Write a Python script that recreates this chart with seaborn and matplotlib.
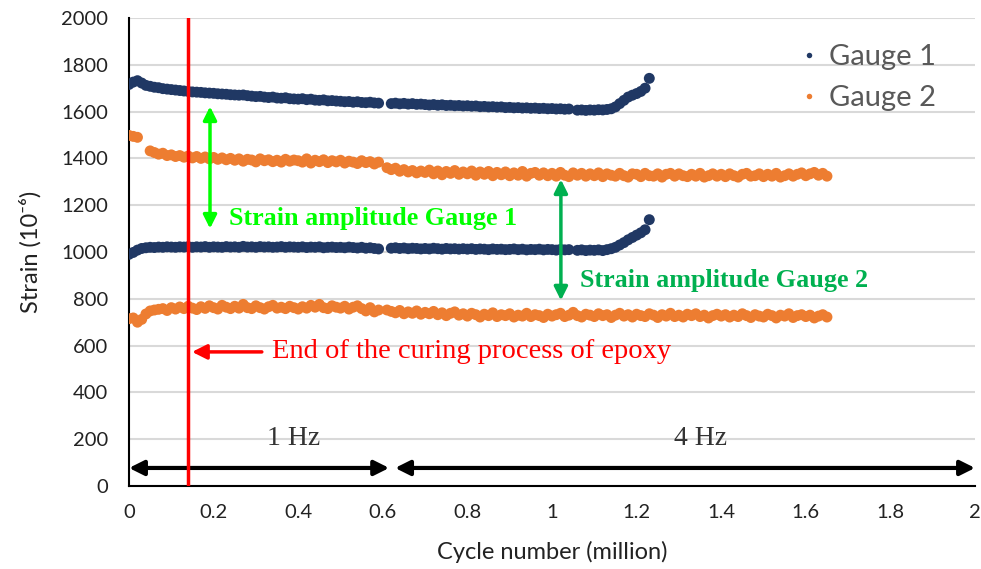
import numpy as np
import pandas as pd
import matplotlib.pyplot as plt
import seaborn as sns
from matplotlib.ticker import FuncFormatter, MultipleLocator

# sampling positions (million cycles)
cycles_g1 = np.round(np.arange(0, 1.235, 0.01), 2)
cycles_g2 = np.round(np.arange(0, 1.655, 0.01), 2)

N = None
g1_max = [1716, 1726, 1732, 1722, 1712, 1708, 1704, 1702, 1698, 1696,
          1694, 1692, 1690, 1688, 1686, 1684, 1683, 1682, 1680, 1679,
          1678, 1676, 1675, 1674, 1672, 1671, 1670, 1671, 1668, 1666,
          1664, 1665, 1662, 1660, 1662, 1658, 1657, 1659, 1655, 1654,
          1653, 1655, 1651, 1653, 1649, 1648, 1650, 1646, 1647, 1645,
          1644, 1642, 1643, 1640, 1642, 1639, 1638, 1640, 1637, 1636,
          N, N, 1634, 1636, 1633, 1635, 1632, 1634, 1631, 1632,
          1630, 1628, 1630, 1627, 1629, 1626, 1627, 1625, 1626, 1624,
          1625, 1623, 1624, 1621, 1622, 1620, 1621, 1619, 1620, 1617,
          1618, 1616, 1617, 1615, 1616, 1614, 1615, 1613, 1614, 1612,
          1613, 1611, 1612, 1610, 1611, N, 1606, 1607, 1605, 1607,
          1606, 1608, 1607, 1609, 1612, 1620, 1634, 1648, 1662, 1670,
          1677, 1686, 1700, 1742]
g1_min = [990, 998, 1008, 1015, 1018, 1020, 1019, 1021, 1020, 1022,
          1021, 1020, 1022, 1021, 1023, 1020, 1022, 1021, 1023, 1020,
          1022, 1021, 1020, 1023, 1021, 1022, 1020, 1024, 1021, 1022,
          1020, 1023, 1021, 1022, 1020, 1021, 1023, 1020, 1022, 1021,
          1020, 1022, 1019, 1021, 1020, 1022, 1018, 1020, 1021, 1019,
          1020, 1018, 1021, 1019, 1017, 1020, 1016, 1018, 1015, 1013,
          N, N, 1016, 1018, 1015, 1017, 1014, 1016, 1015, 1013,
          1015, 1013, 1016, 1014, 1012, 1015, 1013, 1014, 1012, 1014,
          1012, 1014, 1011, 1013, 1012, 1010, 1013, 1011, 1012, 1010,
          1011, 1013, 1010, 1012, 1009, 1011, 1010, 1012, 1009, 1011,
          1010, 1008, 1011, 1009, 1010, N, 1007, 1009, 1006, 1008,
          1007, 1009, 1006, 1010, 1014, 1020, 1030, 1040, 1052, 1062,
          1072, 1082, 1095, 1138]
g2_max = [1498, 1494, 1490, N, N, 1432, 1425, 1418, 1422, 1412,
          1415, 1408, 1412, 1405, 1410, 1402, 1408, 1400, 1406, 1398,
          1404, 1396, 1402, 1394, 1400, 1392, 1398, 1388, 1396, 1393,
          1385, 1398, 1390, 1394, 1386, 1392, 1384, 1396, 1388, 1393,
          1390, 1384, 1398, 1380, 1392, 1386, 1394, 1382, 1390, 1385,
          1392, 1380, 1388, 1384, 1378, 1390, 1382, 1386, 1376, 1384,
          N, 1360, 1352, 1358, 1345, 1352, 1342, 1348, 1338, 1346,
          1340, 1350, 1334, 1346, 1330, 1344, 1336, 1348, 1332, 1342,
          1334, 1346, 1328, 1342, 1332, 1344, 1326, 1340, 1330, 1342,
          1326, 1338, 1328, 1344, 1324, 1336, 1340, 1328, 1338, 1326,
          1336, 1324, 1340, 1328, 1322, 1338, 1328, 1336, 1324, 1334,
          1326, 1338, 1322, 1334, 1328, 1324, 1336, 1326, 1320, 1334,
          1332, 1322, 1336, 1326, 1324, 1334, 1320, 1332, 1336, 1324,
          1334, 1326, 1322, 1332, 1324, 1336, 1320, 1326, 1334, 1324,
          1332, 1322, 1334, 1326, 1320, 1332, 1336, 1324, 1326, 1334,
          1322, 1332, 1324, 1336, 1320, 1326, 1334, 1324, 1332, 1338,
          1326, 1334, 1340, 1328, 1336, 1324]
g2_min = [715, 718, 700, 712, 735, 748, 752, 755, 758, 750,
          762, 756, 765, 758, 768, 760, 754, 766, 759, 770,
          762, 756, 772, 764, 758, 768, 760, 776, 762, 758,
          770, 762, 756, 766, 772, 760, 764, 758, 768, 762,
          756, 766, 760, 772, 764, 776, 762, 758, 770, 764,
          760, 768, 756, 764, 770, 758, 748, 762, 744, 752,
          N, 752, 746, 740, 750, 736, 744, 738, 748, 734,
          742, 736, 746, 732, 740, 728, 738, 744, 730, 736,
          726, 738, 732, 722, 734, 728, 740, 724, 732, 728,
          736, 722, 730, 726, 738, 724, 732, 728, 720, 734,
          726, 732, 738, 724, 730, 742, 728, 722, 734, 730,
          724, 736, 728, 732, 720, 730, 738, 726, 732, 722,
          734, 728, 724, 736, 730, 720, 732, 726, 738, 724,
          730, 722, 734, 728, 736, 724, 730, 718, 728, 734,
          726, 732, 722, 730, 724, 736, 728, 720, 732, 726,
          722, 734, 728, 718, 730, 726, 736, 720, 728, 732,
          724, 730, 718, 726, 732, 722]

gauges = ["Gauge 1", "Gauge 2"]
colors = {"Gauge 1": "#203864", "Gauge 2": "#ED7D31"}

parts = []
for name, x, ys in [("Gauge 1", cycles_g1, [g1_max, g1_min]),
                    ("Gauge 2", cycles_g2, [g2_max, g2_min])]:
    for y in ys:
        parts.append(pd.DataFrame({"cycles": x, "strain": pd.array(y, dtype="Float64"), "gauge": name}))
df = pd.concat(parts, ignore_index=True).dropna()
df["strain"] = df["strain"].astype(float)

sns.set_theme(style="white")
plt.rcParams["font.family"] = ["Lato", "DejaVu Sans"]

fig = plt.figure(figsize=(9.81, 5.69), dpi=100)
ax = fig.add_axes([0.1315, 0.1459, 0.8624, 0.8225])

sns.scatterplot(data=df, x="cycles", y="strain", hue="gauge", hue_order=gauges,
                palette=colors, s=62, edgecolor="none", ax=ax, zorder=3)

ax.set_xlim(0, 2)
ax.set_ylim(0, 2000)
ax.yaxis.set_major_locator(MultipleLocator(200))
ax.xaxis.set_major_locator(MultipleLocator(0.2))
ax.xaxis.set_major_formatter(FuncFormatter(lambda v, p: "%g" % round(v, 1)))
ax.grid(axis="y", color="#d9d9d9", lw=1.5)
ax.set_axisbelow(True)
for s in ["top", "right"]:
    ax.spines[s].set_visible(False)
for s in ["left", "bottom"]:
    ax.spines[s].set_color("black")
    ax.spines[s].set_linewidth(1.5)
ax.tick_params(axis="both", length=0, labelsize=14.5, colors="#222222")
ax.tick_params(axis="y", pad=15)
ax.tick_params(axis="x", pad=13)
ax.set_xlabel("Cycle number (million)", fontsize=17, color="#222222", labelpad=14)
ax.set_ylabel("Strain (10⁻⁶)", fontsize=17, color="#222222", labelpad=14)

h, l = ax.get_legend_handles_labels()
ax.legend(h, l, loc="upper left", bbox_to_anchor=(0.752, 1.0), frameon=False,
          fontsize=21, labelcolor="#595959", markerscale=0.5, labelspacing=0.5,
          handletextpad=0.1, handlelength=1.2)

# end of curing
ax.axvline(0.14, color="red", lw=2.5, zorder=4)
ax.annotate("", xy=(0.149, 573), xytext=(0.314, 573),
            arrowprops=dict(arrowstyle="-|>", color="red", lw=2.5,
                            mutation_scale=22, shrinkA=0, shrinkB=0))
ax.text(0.338, 573, "End of the curing process of epoxy", color="red",
        fontsize=20.5, family="Liberation Serif", va="center", ha="left")

# strain amplitudes
ax.annotate("", xy=(0.1915, 1622), xytext=(0.1915, 1100),
            arrowprops=dict(arrowstyle="<|-|>", color="#00FF00", lw=2.5,
                            mutation_scale=20, shrinkA=0, shrinkB=0))
ax.text(0.236, 1145, "Strain amplitude Gauge 1", color="#00FF00", fontsize=18.8,
        fontweight="bold", family="Liberation Serif", va="center", ha="left")
ax.annotate("", xy=(1.021, 1310), xytext=(1.021, 793),
            arrowprops=dict(arrowstyle="<|-|>", color="#00B050", lw=2.5,
                            mutation_scale=20, shrinkA=0, shrinkB=0))
ax.text(1.067, 876, "Strain amplitude Gauge 2", color="#00B050", fontsize=18.8,
        fontweight="bold", family="Liberation Serif", va="center", ha="left")

# loading frequency
ax.annotate("", xy=(0.0, 77), xytext=(0.615, 77),
            arrowprops=dict(arrowstyle="<|-|>", color="black", lw=3,
                            mutation_scale=22, shrinkA=0, shrinkB=0))
ax.annotate("", xy=(0.629, 77), xytext=(2.0, 77),
            arrowprops=dict(arrowstyle="<|-|>", color="black", lw=3,
                            mutation_scale=22, shrinkA=0, shrinkB=0))
ax.text(0.39, 205, "1 Hz", fontsize=20, family="Liberation Serif", color="#333333",
        ha="center", va="center")
ax.text(1.35, 205, "4 Hz", fontsize=20, family="Liberation Serif", color="#333333",
        ha="center", va="center")

fig.savefig("out.png", dpi=100)
